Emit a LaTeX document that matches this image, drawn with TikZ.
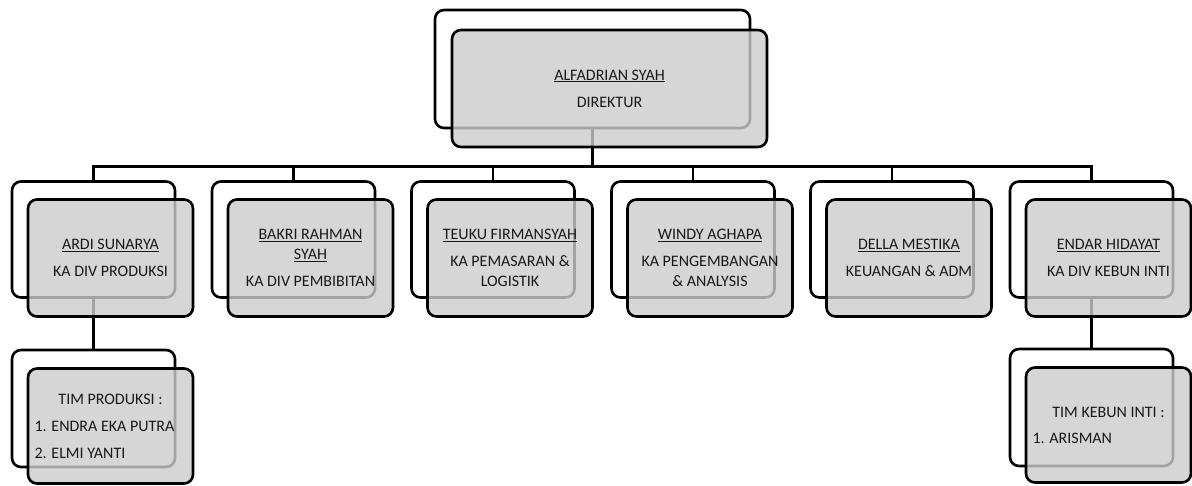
\documentclass[tikz,border=0pt]{standalone}
\usepackage{fontspec}
\setmainfont{Carlito}
\tikzset{
  backbox/.style={draw,line width=2.6pt,rounded corners=9pt,fill=white,
    minimum width=163pt,minimum height=116pt},
  frontbox/.style={draw,line width=2.6pt,rounded corners=9pt,fill=black!20,
    fill opacity=0.8,text opacity=1,text=black!90,align=center,
    minimum width=165pt,minimum height=117pt,xshift=17pt,yshift=-18.5pt,
    font=\fontsize{16}{20}\selectfont},
  link/.style={line width=2.6pt}
}
\newcommand{\nama}[1]{\underline{#1}}
\begin{document}
\begin{tikzpicture}[x=1pt,y=-1pt]
  \useasboundingbox (0,0) rectangle (1192,486);
  % back boxes
  \node[backbox,minimum width=315pt,minimum height=118pt] (dirB) at (592.5,69) {};
  \foreach \n/\x in {ardi/93.5,bakri/293.5,teuku/493,windy/693,della/892,endar/1091.5}
    \node[backbox] (\n B) at (\x,239.5) {};
  \node[backbox,minimum height=117pt] (prodB) at (93.5,408.5) {};
  \node[backbox,minimum height=117pt] (kebunB) at (1091.5,407.5) {};

  % connectors
  \path (dirB.south) ++(0,37) coordinate (bus);
  \draw[link] (dirB.south) -- (bus);
  \foreach \n in {ardi,bakri,teuku,windy,della,endar}
    \draw[link] (bus) -| (\n B.north);
  \draw[link] (ardiB.south) -- (prodB.north);
  \draw[link] (endarB.south) -- (kebunB.north);

  % front boxes
  \node[frontbox,minimum width=315pt,yshift=-1pt] (dir) at (dirB)
    {\nama{ALFADRIAN SYAH}\\[7pt]DIREKTUR};
  \node[frontbox] (ardi) at (ardiB) {\nama{ARDI SUNARYA}\\[7pt]KA DIV PRODUKSI};
  \node[frontbox] (bakri) at (bakriB)
    {\nama{BAKRI RAHMAN}\\\nama{SYAH}\\[7pt]KA DIV PEMBIBITAN};
  \node[frontbox] (teuku) at (teukuB)
    {\nama{TEUKU FIRMANSYAH}\\[7pt]KA PEMASARAN \&\\LOGISTIK};
  \node[frontbox] (windy) at (windyB)
    {\nama{WINDY AGHAPA}\\[7pt]KA PENGEMBANGAN\\\& ANALYSIS};
  \node[frontbox] (della) at (dellaB) {\nama{DELLA MESTIKA}\\[7pt]KEUANGAN \& ADM};
  \node[frontbox] (endar) at (endarB) {\nama{ENDAR HIDAYAT}\\[7pt]KA DIV KEBUN INTI};
  \node[frontbox,minimum height=115pt,yshift=1pt,text width=152pt,align=flush left] (prod) at (prodB)
    {\makebox[152pt]{TIM PRODUKSI :}\\[7pt]1. ENDRA EKA PUTRA\\[7pt]2. ELMI YANTI};
  \node[frontbox,minimum height=115pt,yshift=1pt,text width=152pt,align=flush left] (kebun) at (kebunB)
    {\makebox[152pt]{TIM KEBUN INTI :}\\[6pt]1. ARISMAN};
\end{tikzpicture}
\end{document}
